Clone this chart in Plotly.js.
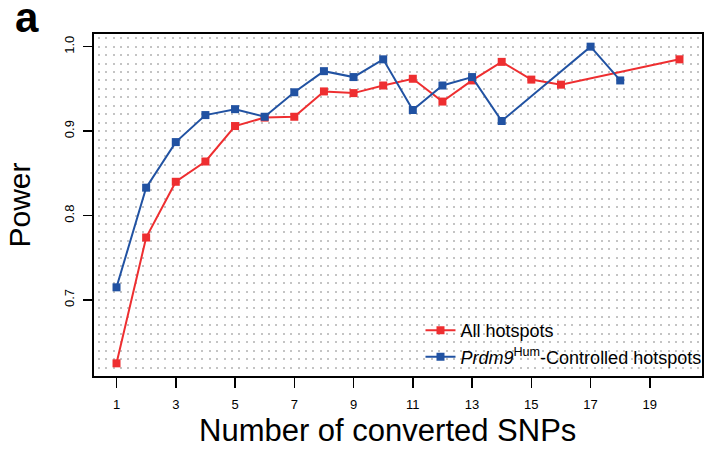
<!DOCTYPE html>
<html>
<head>
<meta charset="utf-8">
<script src="https://cdn.plot.ly/plotly-3.0.1.min.js"></script>
<style>
  html, body { margin: 0; padding: 0; background: #fff; }
  #chart { width: 704px; height: 449px; }
</style>
</head>
<body>
<div id="chart"></div>
<script>
// Number of converted SNPs per hotspot, and detection power
const snpsAll = [1, 2, 3, 4, 5, 6, 7, 8, 9, 10, 11, 12, 13, 14, 15, 16, 20];
const powerAll = [0.625, 0.774, 0.840, 0.864, 0.906, 0.916, 0.917, 0.947, 0.945, 0.954,
                  0.962, 0.935, 0.960, 0.982, 0.961, 0.955, 0.985];

const snpsPrdm9 = [1, 2, 3, 4, 5, 6, 7, 8, 9, 10, 11, 12, 13, 14, 17, 18];
const powerPrdm9 = [0.715, 0.833, 0.887, 0.919, 0.926, 0.917, 0.946, 0.971, 0.964, 0.985,
                    0.925, 0.954, 0.964, 0.912, 1.000, 0.960];

const xTickVals = [1, 3, 5, 7, 9, 11, 13, 15, 17, 19];
const yTickVals = [0.7, 0.8, 0.9, 1.0];
const yTickText = ["0.7", "0.8", "0.9", "1.0"];

const seriesNames = ["All hotspots", "<i>Prdm9</i><sup>Hum</sup>-Controlled hotspots"];
const xTitle = "Number of converted SNPs";
const yTitle = "Power";
const panelLabel = "a";

const RED = "#ee2e30";
const BLUE = "#2152a2";
const FONT = "Liberation Sans, Arial, Helvetica, sans-serif";

// Light dotted lattice behind the data
const dotGrid = {
  gridcolor: "#c4c4c4",
  gridwidth: 2,
  griddash: "0px,3.7px,2px,1.7px"
};

const traces = [
  {
    x: snpsAll, y: powerAll, name: seriesNames[0],
    type: "scatter", mode: "lines+markers",
    line: { color: RED, width: 2 },
    marker: { symbol: "square", size: 8, color: RED }
  },
  {
    x: snpsPrdm9, y: powerPrdm9, name: seriesNames[1],
    type: "scatter", mode: "lines+markers",
    line: { color: BLUE, width: 2 },
    marker: { symbol: "square", size: 8, color: BLUE }
  }
];

const layout = {
  width: 704, height: 449,
  margin: { l: 94, r: 2, t: 34, b: 73, autoexpand: false },
  paper_bgcolor: "#fff",
  plot_bgcolor: "#fff",
  font: { family: FONT, color: "#000" },
  showlegend: true,
  legend: {
    x: 0.537, y: 0.187, xanchor: "left", yanchor: "top",
    bgcolor: "rgba(0,0,0,0)",
    font: { family: FONT, size: 18, color: "#000" },
    tracegroupgap: 0
  },
  xaxis: {
    range: [0.24, 20.76],
    tickmode: "array", tickvals: xTickVals,
    ticks: "outside", ticklen: 10, tickwidth: 1.5, tickcolor: "#000",
    ticklabelstandoff: 5,
    tickfont: { family: FONT, size: 13 },
    showgrid: false, zeroline: false,
    showline: true, mirror: true, linecolor: "#000", linewidth: 2
  },
  yaxis: {
    range: [0.61, 1.015],
    tickmode: "array", tickvals: yTickVals, ticktext: yTickText,
    tickangle: -90,
    ticks: "outside", ticklen: 9, tickwidth: 1.5, tickcolor: "#000",
    ticklabelstandoff: 4,
    tickfont: { family: FONT, size: 13 },
    showgrid: true, ...dotGrid,
    minor: { dtick: 0.01, tick0: 0, showgrid: true, ...dotGrid, ticks: "" },
    zeroline: false,
    showline: true, mirror: true, linecolor: "#000", linewidth: 2,
    title: { text: yTitle, font: { family: FONT, size: 30 }, standoff: 22 }
  },
  annotations: [
    {
      text: "<b>" + panelLabel + "</b>", xref: "paper", yref: "paper",
      x: -0.133, y: 1.047, xanchor: "left", yanchor: "middle",
      showarrow: false, font: { family: FONT, size: 42, color: "#000" }
    },
    {
      text: xTitle, xref: "paper", yref: "paper",
      x: 0.482, y: -0.102, xanchor: "center", yanchor: "top",
      showarrow: false, font: { family: FONT, size: 31, color: "#000" }
    }
  ]
};

Plotly.newPlot("chart", traces, layout, { displayModeBar: false, staticPlot: true });
</script>
</body>
</html>
